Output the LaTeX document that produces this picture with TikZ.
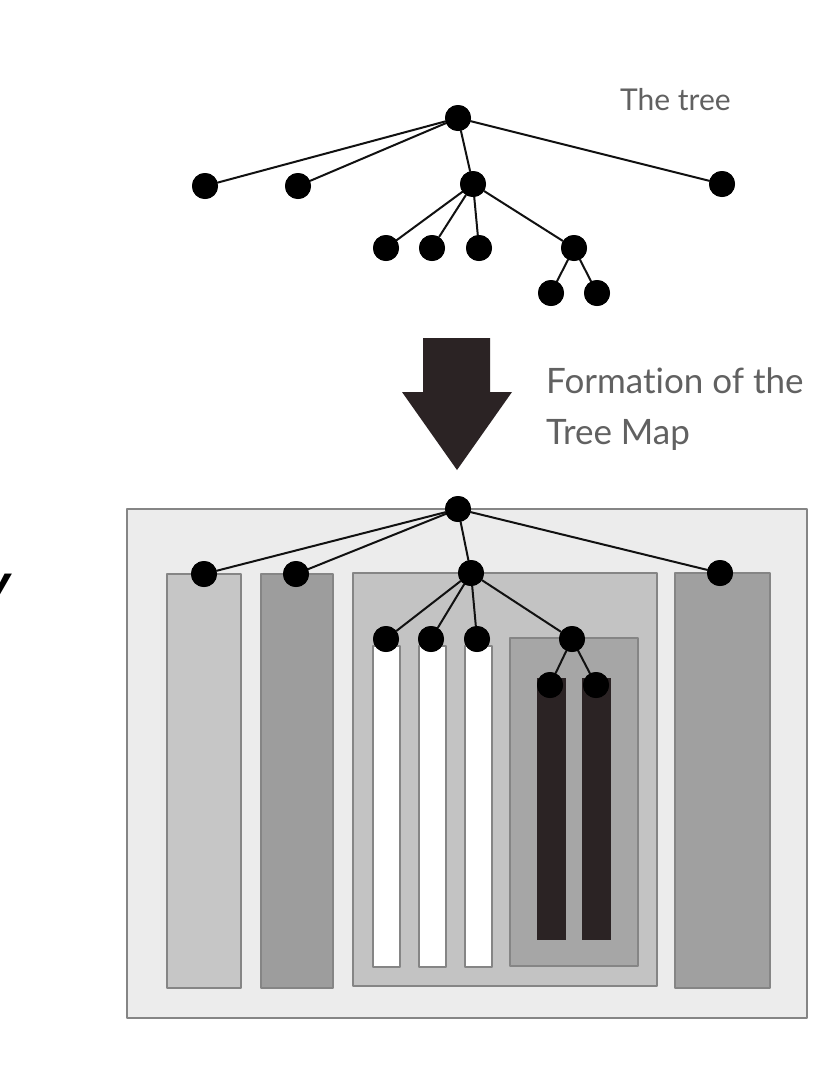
\documentclass[tikz,border=0pt]{standalone}
\usepackage{fontspec}
\usepackage{tikz}
\usetikzlibrary{positioning}
\newfontfamily\gillfont[Ligatures={NoCommon,NoDiscretionary}]{Lato}
\newfontfamily\boldfont{Liberation Sans}
\definecolor{ink}{HTML}{111111}
\definecolor{txtgray}{HTML}{616161}
\definecolor{rim}{HTML}{858585}
\definecolor{paper}{HTML}{ECECEC}
\definecolor{greyA}{HTML}{C6C6C6}
\definecolor{greyB}{HTML}{9D9D9D}
\definecolor{greyC}{HTML}{C3C3C3}
\definecolor{greyD}{HTML}{A6A6A6}
\definecolor{greyE}{HTML}{A0A0A0}
\definecolor{darkbar}{HTML}{2B2324}

\begin{document}
\begin{tikzpicture}[
  x=1pt, y=-1pt, line cap=round, line join=round,
  dot/.style={circle, fill=black, minimum size=26pt, inner sep=0pt},
  edge/.style={ink, line width=2pt},
  cell/.style={draw=rim, line width=1.6pt},
  lbl/.style={text=txtgray, align=left, inner sep=0pt}]

\useasboundingbox (0,0) rectangle (832,1066);
\fill[white] (0,0) rectangle (832,1066);

% ================================================================ the tree
\node[dot] (t0) at (458,118) {};
\node[dot] (t1) at (205,186) {};
\node[dot] (t2) at (298,186) {};
\node[dot] (t3) at (473,184) {};
\node[dot] (t4) at (722,184) {};
\foreach \n/\x in {1/386, 2/432, 3/479, 4/574}
  \node[dot] (t3\n) at (\x,248) {};
\node[dot] (t341) at (551,293) {};
\node[dot] (t342) at (597,293) {};
\foreach \a/\b in {t0/t1, t0/t2, t0/t3, t0/t4, t3/t31, t3/t32, t3/t33, t3/t34, t34/t341, t34/t342}
  \draw[edge] (\a) -- (\b);
\foreach \n in {t0,t1,t2,t3,t4,t31,t32,t33,t34,t341,t342}
  \fill[black] (\n) circle (13pt);

\node[lbl, font=\gillfont\fontsize{30}{50}\selectfont, anchor=base west] (ttl) at (620,110) {The tree};

% ================================================================ the arrow
\fill[darkbar] (423,338) -- (490,338) -- (490,392) -- (512,392) -- (457,470)
  -- (402,392) -- (423,392) -- cycle;
\node[lbl, font=\gillfont\fontsize{35}{51}\selectfont, anchor=north west] (fm) at (546,368)
  {Formation of the\\Tree Map};

% ================================================================ the tree map
\filldraw[cell, fill=paper] (127,509) rectangle (807,1018);
\filldraw[cell, fill=greyA] (167,574) rectangle (241,988);
\filldraw[cell, fill=greyB] (261,574) rectangle (333,988);
\filldraw[cell, fill=greyC] (353,573) rectangle (657,986);
\filldraw[cell, fill=greyE] (675,573) rectangle (770,988);
\foreach \l/\r in {373/400, 419/446, 465/492}
  \filldraw[cell, fill=white] (\l,646) rectangle (\r,967);
\filldraw[cell, fill=greyD] (510,638) rectangle (638,966);
\foreach \l/\r in {537/566, 582/611}
  \fill[darkbar] (\l,678) rectangle (\r,940);

\node[dot] (m0) at (458,509) {};
\node[dot] (m1) at (204,574) {};
\node[dot] (m2) at (296,574) {};
\node[dot] (m3) at (471,573) {};
\node[dot] (m4) at (720,573) {};
\foreach \n/\x in {1/386, 2/431, 3/477, 4/572}
  \node[dot] (m3\n) at (\x,639) {};
\node[dot] (m341) at (550,685) {};
\node[dot] (m342) at (596,685) {};
\foreach \a/\b in {m0/m1, m0/m2, m0/m3, m0/m4, m3/m31, m3/m32, m3/m33, m3/m34, m34/m341, m34/m342}
  \draw[edge] (\a) -- (\b);
\foreach \n in {m0,m1,m2,m3,m4,m31,m32,m33,m34,m341,m342}
  \fill[black] (\n) circle (13pt);

% cut-off letter at the left edge
\node[font=\boldfont\bfseries\itshape\fontsize{50}{50}\selectfont, anchor=base east, inner sep=0pt] (cut) at (11,600) {y};

\end{tikzpicture}
\end{document}
